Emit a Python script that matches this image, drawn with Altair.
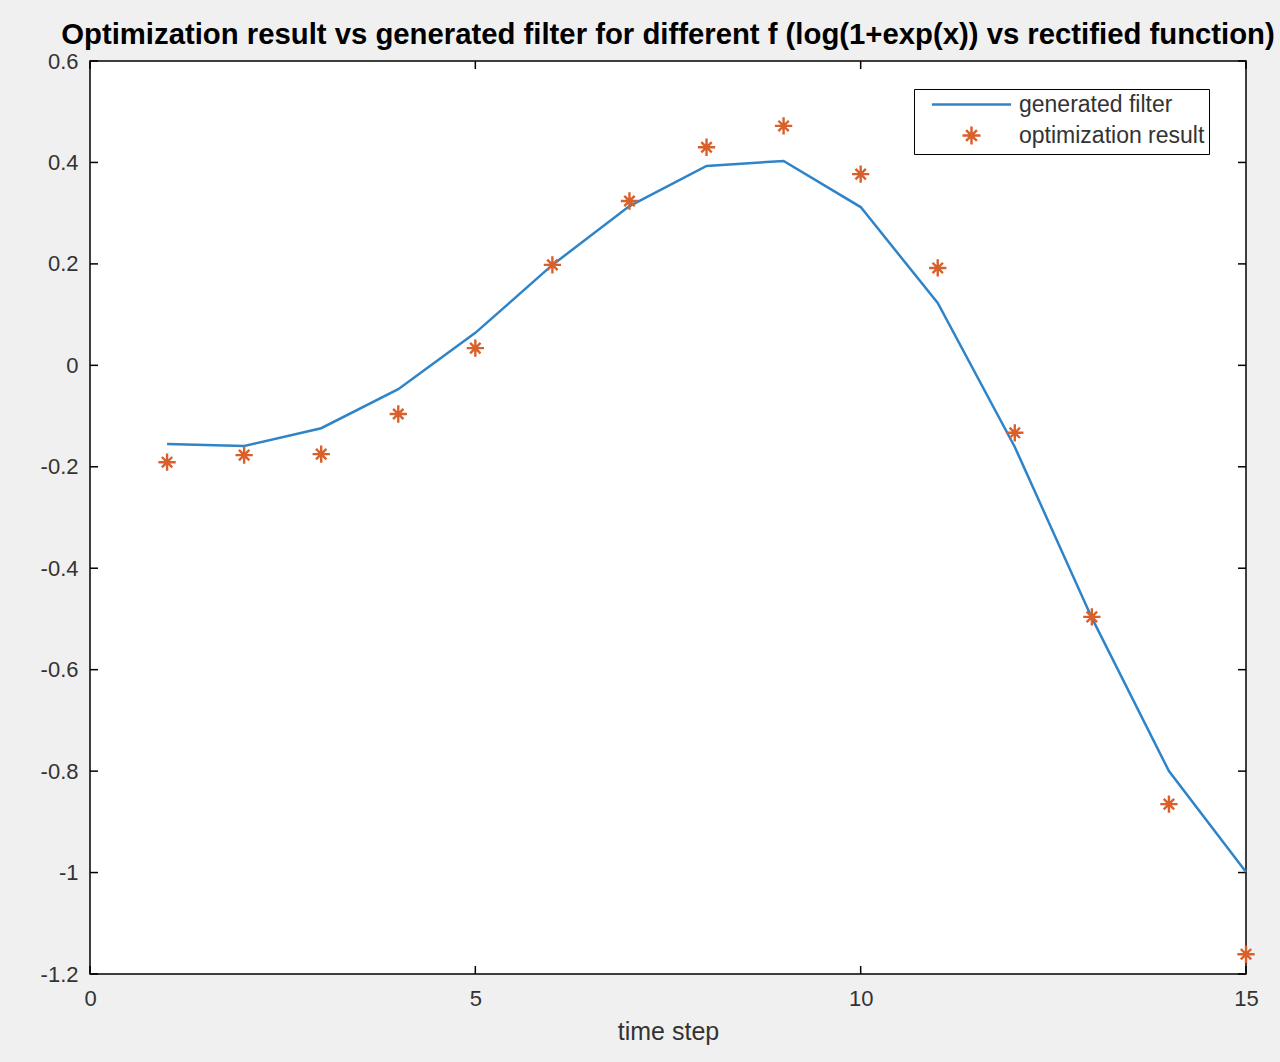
import altair as alt
import pandas as pd

steps = list(range(1, 16))
generated = [-0.155, -0.159, -0.124, -0.047, 0.064, 0.198, 0.314, 0.393, 0.403,
             0.312, 0.123, -0.161, -0.498, -0.800, -0.999]
optimized = [-0.191, -0.177, -0.175, -0.096, 0.034, 0.198, 0.324, 0.430, 0.472,
             0.377, 0.192, -0.133, -0.496, -0.865, -1.161]
series_names = ["generated filter", "optimization result"]
y_ticks = [0.6, 0.4, 0.2, 0, -0.2, -0.4, -0.6, -0.8, -1, -1.2]
x_ticks = [0, 5, 10, 15]

W, H = 1156, 913
TICK = 8
BLUE = "#2f84c8"
ORANGE = "#d9602a"
FONT = "Liberation Sans"
TXT = "#333333"

gen_df = pd.DataFrame({"step": steps, "value": generated, "series": series_names[0]})
opt_df = pd.DataFrame({"step": steps, "value": optimized, "series": series_names[1]})
yt_df = pd.DataFrame({"v": y_ticks})
xt_df = pd.DataFrame({"v": x_ticks})

xscale = alt.Scale(domain=[0, 15], nice=False, zero=False)
yscale = alt.Scale(domain=[-1.2, 0.6], nice=False, zero=False)

xaxis = alt.Axis(values=x_ticks, title="time step", domain=False, ticks=False, grid=False,
                 labelFont=FONT, labelFontSize=22, labelColor=TXT, labelPadding=14,
                 labelFlush=False,
                 titleFont=FONT, titleFontSize=25, titleFontWeight="normal", titleColor=TXT,
                 titlePadding=10, labelExpr="toString(datum.value)")
yaxis = alt.Axis(values=y_ticks, title=None, domain=False, ticks=False, grid=False,
                 labelFont=FONT, labelFontSize=22, labelColor=TXT, labelPadding=12,
                 labelFlush=False, labelExpr="toString(datum.value)")

line_path = "M-4.4,0L4.4,0"
star_path = "M-1,0L1,0M0,-1L0,1M-0.6,-0.6L0.6,0.6M-0.6,0.6L0.6,-0.6"

color = alt.Color("series:N", scale=alt.Scale(domain=series_names, range=[BLUE, ORANGE]),
                  legend=alt.Legend(title=None, orient="none", legendX=824, legendY=28,
                                    fillColor="white", strokeColor="black",
                                    padding=4, labelFont=FONT, labelFontSize=23,
                                    labelColor=TXT, labelLimit=400,
                                    symbolSize=324, symbolStrokeWidth=2.5,
                                    symbolOffset=42, labelOffset=36, rowPadding=4))
shape = alt.Shape("series:N", scale=alt.Scale(domain=series_names, range=[line_path, star_path]),
                  legend=None)

line = alt.Chart(gen_df).mark_line(strokeWidth=2.5).encode(
    x=alt.X("step:Q", scale=xscale, axis=xaxis),
    y=alt.Y("value:Q", scale=yscale, axis=yaxis),
    color=color,
)
points = alt.Chart(opt_df).mark_point(filled=False, strokeWidth=2.4, size=300, opacity=1).encode(
    x=alt.X("step:Q", scale=xscale),
    y=alt.Y("value:Q", scale=yscale),
    color=color,
    shape=shape,
)

left_t = alt.Chart(yt_df).mark_rule(color="black", strokeWidth=1.5).encode(
    y=alt.Y("v:Q", scale=yscale), x=alt.value(0), x2=alt.value(TICK))
right_t = alt.Chart(yt_df).mark_rule(color="black", strokeWidth=1.5).encode(
    y=alt.Y("v:Q", scale=yscale), x=alt.value(W - TICK), x2=alt.value(W))
bot_t = alt.Chart(xt_df).mark_rule(color="black", strokeWidth=1.5).encode(
    x=alt.X("v:Q", scale=xscale), y=alt.value(H - TICK), y2=alt.value(H))
top_t = alt.Chart(xt_df).mark_rule(color="black", strokeWidth=1.5).encode(
    x=alt.X("v:Q", scale=xscale), y=alt.value(0), y2=alt.value(TICK))

chart = alt.layer(left_t, right_t, bot_t, top_t, line, points).properties(
    width=W, height=H,
    title=alt.TitleParams(
        "Optimization result vs generated filter for different f (log(1+exp(x)) vs rectified function)",
        font=FONT, fontSize=29.3, fontWeight="bold", color="black", anchor="middle", offset=0),
    background="#f0f0f0",
    padding={"left": 90, "top": 61, "right": 34, "bottom": 88},
    autosize=alt.AutoSizeParams(type="none"),
).configure_view(fill="white", stroke="black", strokeWidth=1.5)

chart.save("out.html", embed_options={"renderer": "svg", "actions": False})
